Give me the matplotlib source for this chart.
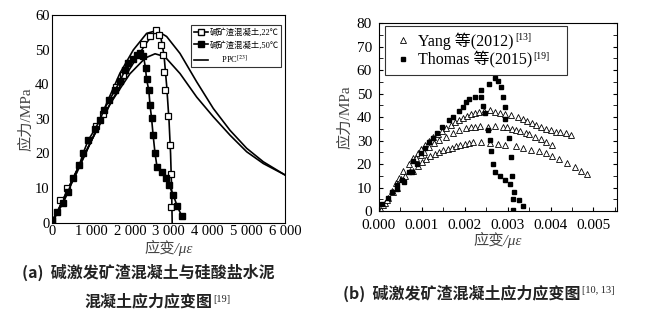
import matplotlib
matplotlib.use('Agg')
import matplotlib.pyplot as plt
from matplotlib.ticker import MultipleLocator, FormatStrFormatter

plt.rcParams['font.family'] = ['Liberation Serif', 'Noto Sans CJK SC']
plt.rcParams['mathtext.fontset'] = 'stix'

# ---------------- data, panel (a) ----------------
# alkali-activated slag concrete, 22 C (open squares)
strain_22 = [0, 200, 370, 1140, 1310, 1640, 1830, 2350, 2520, 2670, 2750, 2800, 2855, 2890,
             2915, 2980, 3035, 3065, 3050]
stress_22 = [0.8, 6.6, 9.9, 27.9, 31.4, 39.1, 42.7, 51.5, 54.0, 55.7, 54.3, 51.3, 48.4, 43.5,
             38.2, 30.7, 22.4, 14.2, 4.6]
# fitted line through 22 C data
fit_22_strain = [0, 500, 1000, 1500, 2000, 2400, 2600, 2700, 2800, 2880, 2950, 3010, 3050, 3075, 3092]
fit_22_stress = [0, 12.0, 23.5, 34.5, 44.5, 51.5, 54.5, 55.3, 53.5, 48.5, 39.5, 29.5, 20.0, 10.5, 0]

# alkali-activated slag concrete, 50 C (filled squares)
strain_50 = [0, 130, 280, 410, 540, 700, 800, 930, 1100, 1230, 1330, 1470, 1620, 1745, 1875,
             1960, 2090, 2175, 2260, 2350, 2405, 2430, 2490, 2520, 2560, 2600, 2650, 2700,
             2820, 2920, 3010, 3120, 3220, 3340]
stress_50 = [0.8, 3.0, 5.6, 9.0, 12.8, 16.7, 20.2, 23.9, 27.0, 29.7, 32.6, 35.4, 38.3, 40.9, 44.1,
             46.0, 47.2, 48.5, 48.9, 48.2, 44.6, 41.5, 38.2, 34.0, 30.2, 25.3, 20.0, 16.2,
             14.7, 12.8, 10.9, 8.0, 4.8, 1.9]

# PPC curves
ppc1_strain = [0, 300, 627, 1057, 1401, 1745, 2089, 2433, 2690, 2948, 3293, 3723, 4152, 4582,
               5012, 5441, 6000]
ppc1_stress = [0, 6.8, 14.3, 24.9, 34.5, 43.2, 49.9, 54.7, 55.5, 53.8, 48.9, 40.7, 33.0, 26.7,
               21.5, 17.6, 13.8]
ppc2_strain = [0, 300, 600, 1000, 1500, 2000, 2400, 2650, 2900, 3293, 3723, 4152, 4582, 5012,
               5441, 6000]
ppc2_stress = [0, 7.2, 14.3, 23.5, 34.5, 43.0, 47.6, 48.8, 48.0, 43.1, 36.3, 30.6, 25.3, 20.5,
               17.1, 13.8]

xticks_a = [0, 1000, 2000, 3000, 4000, 5000, 6000]
xticklabels_a = ['0', '1 000', '2 000', '3 000', '4 000', '5 000', '6 000']

# ---------------- data, panel (b) ----------------
yang1_strain = [0.00004, 0.00013, 0.00021, 0.0003, 0.0004, 0.00047, 0.00056, 0.00069, 0.0008,
                0.0009, 0.00098, 0.00108, 0.00117, 0.00127, 0.00137, 0.00147, 0.00157, 0.00167,
                0.00177, 0.00187, 0.00196, 0.00205, 0.00215, 0.00225, 0.00234, 0.00246, 0.00258,
                0.00271, 0.00283, 0.00295, 0.00308, 0.00324, 0.00336, 0.00346, 0.00358, 0.00367,
                0.00377, 0.00389, 0.004, 0.00412, 0.00423, 0.00436, 0.00447]
yang1_stress = [0.6, 3.6, 5.5, 8.5, 12.0, 14.0, 17.0, 20.0, 22.5, 24.5, 26.3, 28.0, 29.7, 31.3,
                32.7, 34.0, 35.3, 36.7, 37.8, 38.8, 39.7, 40.6, 41.3, 41.9, 42.3, 42.7, 43.0,
                42.3, 41.8, 41.3, 40.7, 40.1, 39.1, 38.4, 37.6, 36.7, 35.9, 35.0, 34.5, 33.8,
                33.5, 33.1, 32.2]
yang2_strain = [0.00009, 0.00032, 0.00052, 0.00072, 0.00086, 0.00098, 0.00105, 0.00117, 0.00129,
                0.0014, 0.00156, 0.00172, 0.00187, 0.00203, 0.00215, 0.00225, 0.00236, 0.00254,
                0.00271, 0.00289, 0.00299, 0.00311, 0.0032, 0.0033, 0.00342, 0.00351, 0.00365,
                0.00377, 0.00389, 0.00404]
yang2_stress = [2.5, 8.0, 13.5, 17.0, 22.4, 23.8, 25.2, 27.1, 28.8, 30.2, 31.6, 33.0, 34.5,
                35.2, 35.6, 35.9, 36.2, 35.8, 36.2, 35.9, 35.6, 35.0, 34.5, 33.9, 33.3, 32.6,
                31.6, 30.5, 29.5, 28.0]
yang3_strain = [0.00018, 0.00042, 0.00061, 0.0008, 0.0009, 0.001, 0.0011, 0.0012, 0.0013, 0.0014,
                0.0015, 0.0016, 0.0017, 0.0018, 0.0019, 0.002, 0.0021, 0.00219, 0.00238,
                0.00258, 0.00277, 0.00295, 0.0032, 0.00337, 0.00355, 0.00373, 0.00389, 0.00404,
                0.0042, 0.00439, 0.00457, 0.00472, 0.00486]
yang3_stress = [4.5, 10.0, 14.8, 17.2, 19.2, 21.0, 22.0, 23.2, 24.2, 25.0, 25.8, 26.4, 27.0,
                27.6, 28.1, 28.6, 28.9, 29.2, 29.2, 29.1, 28.5, 28.1, 27.8, 26.7, 26.0, 25.7,
                24.8, 23.4, 22.0, 20.6, 18.6, 17.2, 15.6]

thomas1_strain = [0.00008, 0.0002, 0.0003, 0.00043, 0.00053, 0.00059, 0.00069, 0.00077, 0.0008,
                  0.00088, 0.00098, 0.00108, 0.00116, 0.00125, 0.00135, 0.00148, 0.00163,
                  0.00173, 0.00186, 0.00195, 0.00203, 0.00211, 0.00223, 0.00238, 0.00256,
                  0.0027, 0.00277, 0.00285, 0.00289, 0.00293, 0.00295, 0.00303, 0.00309,
                  0.00311, 0.00315, 0.00313, 0.00313]
thomas1_stress = [2.8, 5.7, 8.1, 9.5, 13.1, 12.4, 16.7, 16.7, 21.2, 19.9, 24.5, 27.0, 29.5,
                  30.9, 33.0, 35.9, 38.7, 40.1, 42.6, 44.4, 46.5, 47.7, 48.4, 51.5, 54.1,
                  56.5, 55.4, 52.7, 48.4, 44.1, 39.0, 30.9, 23.1, 14.8, 8.1, 5.0, 0.3]
thomas2_strain = [0.00043, 0.00238, 0.00242, 0.00248, 0.00254, 0.00258, 0.00262, 0.00266,
                  0.00271, 0.00283, 0.00295, 0.00305, 0.00327, 0.00336]
thomas2_stress = [11.0, 48.4, 44.7, 41.6, 34.5, 30.2, 25.5, 20.0, 16.7, 14.9, 13.4, 11.4, 4.8, 2.1]


def add_sup(fig, text_obj, sup, size, dy=0):
    # put a small superscript right after a text (mathtext can not do CJK fallback)
    renderer = fig.canvas.get_renderer()
    bb = text_obj.get_window_extent(renderer)
    W, H = fig.get_size_inches() * fig.dpi
    fig.text((bb.x1 + 1) / W, (bb.y1 - dy) / H, sup, fontsize=size, ha='left', va='top',
             family=['Liberation Serif'], color=text_obj.get_color())


fig = plt.figure(figsize=(6.6, 3.23), dpi=100)

# ---------- (a) ----------
ax1 = fig.add_axes([0.0792, 0.3105, 0.3526, 0.643])
ax1.plot(ppc1_strain, ppc1_stress, color='black', lw=1.2)
ax1.plot(ppc2_strain, ppc2_stress, color='black', lw=1.2)
ax1.plot(fit_22_strain, fit_22_stress, color='black', lw=1.2)
ax1.plot(strain_22, stress_22, ls='none', marker='s', ms=5, mfc='white', mec='black', mew=0.9)
ax1.plot(strain_50, stress_50, color='black', lw=1.2, marker='s', ms=5, mfc='black', mec='black')

# legend handles
h22, = ax1.plot([], [], color='black', lw=1.2, marker='s', ms=5, mfc='white', mec='black')
h50, = ax1.plot([], [], color='black', lw=1.2, marker='s', ms=5, mfc='black', mec='black')
hppc, = ax1.plot([], [], color='black', lw=1.2)
leg1 = ax1.legend([h22, h50, hppc], ['碱矿渣混凝土,22℃', '碱矿渣混凝土,50℃', '      PPC$^{[23]}$'],
                  loc='upper right', bbox_to_anchor=(0.985, 0.95), fontsize=6, frameon=True,
                  fancybox=False, edgecolor='black', handlelength=1.6, handletextpad=0.2,
                  borderpad=0.35, labelspacing=0.45, borderaxespad=0)
leg1.get_frame().set_linewidth(0.8)

ax1.set_xlim(0, 6000)
ax1.set_ylim(0, 60)
ax1.set_xticks(xticks_a)
ax1.set_xticklabels(xticklabels_a)
ax1.set_yticks(range(0, 61, 10))
ax1.tick_params(direction='in', labelsize=10.5, length=0, pad=2)
ax1.set_ylabel('应力/MPa', fontsize=11, color='#444444', labelpad=1)
ax1.set_xlabel('应变/με', fontsize=11, color='#444444', labelpad=1, style='italic')

# ---------- (b) ----------
ax2 = fig.add_axes([0.5742, 0.3467, 0.3606, 0.582])
tri = dict(ls='none', marker='^', ms=4.5, mfc='white', mec='black', mew=0.6)
sq = dict(ls='none', marker='s', ms=3.3, mfc='black', mec='black')
ax2.plot(yang1_strain, yang1_stress, label='Yang 等(2012)', **tri)
ax2.plot(yang2_strain, yang2_stress, **tri)
ax2.plot(yang3_strain, yang3_stress, **tri)
ax2.plot(thomas1_strain, thomas1_stress, label='Thomas 等(2015)', **sq)
ax2.plot(thomas2_strain, thomas2_stress, **sq)

leg2 = ax2.legend(loc='upper left', bbox_to_anchor=(0.025, 0.985, 0.765, 0.0), mode='expand',
                  fontsize=11.5, frameon=True, fancybox=False, edgecolor='black',
                  handlelength=1.5, handletextpad=0.2, borderpad=0.4, labelspacing=0.1,
                  borderaxespad=0)
leg2.get_frame().set_linewidth(0.8)

ax2.set_xlim(0, 0.00555)
ax2.set_ylim(0, 80)
ax2.xaxis.set_major_locator(MultipleLocator(0.001))
ax2.xaxis.set_minor_locator(MultipleLocator(0.0005))
ax2.yaxis.set_major_locator(MultipleLocator(10))
ax2.yaxis.set_minor_locator(MultipleLocator(5))
ax2.xaxis.set_major_formatter(FormatStrFormatter('%.3f'))
ax2.tick_params(which='both', direction='in', right=True, labelsize=11, length=3)
ax2.tick_params(axis='y', pad=5)
ax2.tick_params(axis='x', pad=6)
ax2.set_ylabel('应力/MPa', fontsize=11, color='#444444', labelpad=3)
ax2.set_xlabel('应变/με', fontsize=11, color='#444444', labelpad=0, style='italic')

# captions
cap = dict(family=['Noto Sans CJK SC', 'DejaVu Sans'], fontsize=11.5, weight='bold', color='#222222')
fig.text(0.033, 0.158, '(a)  碱激发矿渣混凝土与硅酸盐水泥', ha='left', va='center', **cap)
cap_a2 = fig.text(0.128, 0.068, '混凝土应力应变图', ha='left', va='center', **cap)
cap_b = fig.text(0.52, 0.093, '(b)  碱激发矿渣混凝土应力应变图', ha='left', va='center', **cap)

fig.canvas.draw()
add_sup(fig, leg2.get_texts()[0], '[13]', 7, dy=1)
add_sup(fig, leg2.get_texts()[1], '[19]', 7, dy=1)
add_sup(fig, cap_a2, '[19]', 7.5, dy=2)
add_sup(fig, cap_b, '[10, 13]', 7.5, dy=2)

fig.savefig('out.png', dpi=100)
